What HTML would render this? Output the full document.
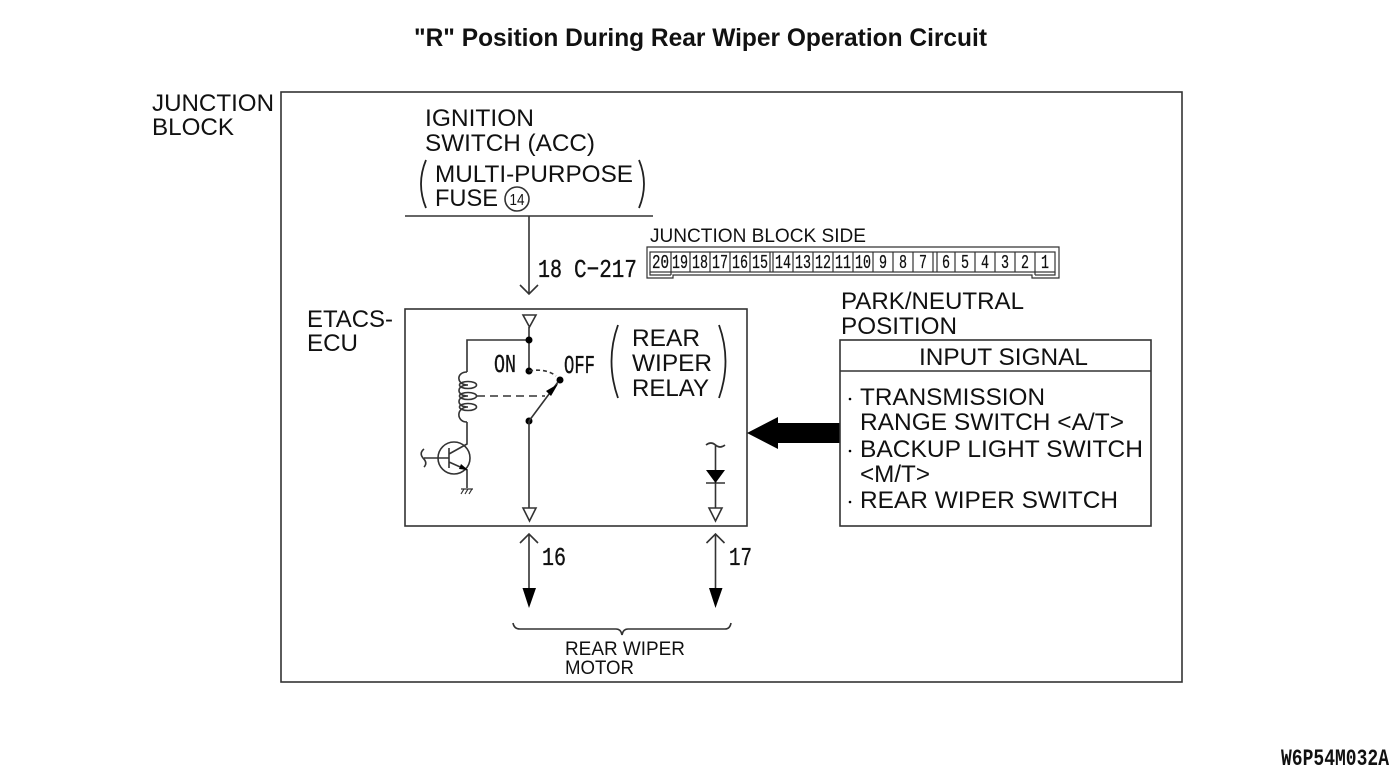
<!DOCTYPE html>
<html><head><meta charset="utf-8"><style>
html,body{margin:0;padding:0;background:#fff;width:1400px;height:775px;overflow:hidden}
svg{display:block}
text{font-family:"Liberation Sans",sans-serif;fill:#111;font-size:24.5px}
.l{fill:none;stroke:#333;stroke-width:1.6}
.t{stroke:#222;stroke-width:1.8;fill:none}
.d{fill:#000;stroke:none}
.o{fill:#fff;stroke:#333;stroke-width:1.6}
.s{font-size:19px}
.m{font-family:"Liberation Mono",monospace;font-size:26px;stroke:#111;stroke-width:.35}
.n{font-family:"Liberation Mono",monospace;font-size:19px;stroke:#111;stroke-width:.25}
</style></head><body>
<svg width="1400" height="775" viewBox="0 0 1400 775" xmlns="http://www.w3.org/2000/svg">
<text x="414" y="46" textLength="573" lengthAdjust="spacingAndGlyphs" style="font-weight:bold;font-size:25px">"R" Position During Rear Wiper Operation Circuit</text>

<rect class="l" x="281" y="92" width="901" height="590"/>
<text x="152" y="111" textLength="122" lengthAdjust="spacingAndGlyphs">JUNCTION</text>
<text x="152" y="135" textLength="82" lengthAdjust="spacingAndGlyphs">BLOCK</text>

<text x="425" y="126" textLength="109" lengthAdjust="spacingAndGlyphs">IGNITION</text>
<text x="425" y="151" textLength="170" lengthAdjust="spacingAndGlyphs">SWITCH (ACC)</text>
<text x="435" y="182" textLength="198" lengthAdjust="spacingAndGlyphs">MULTI-PURPOSE</text>
<text x="435" y="206" textLength="63" lengthAdjust="spacingAndGlyphs">FUSE</text>
<circle class="l" cx="517" cy="199" r="12"/>
<text x="517" y="205" text-anchor="middle" textLength="15" lengthAdjust="spacingAndGlyphs" style="font-size:16px">14</text>
<path class="t" d="M426 160Q416 184 426 208M639 160Q649 184 639 208"/>
<path class="l" d="M405 216H653M529 216V294M520 285L529 294L538 285"/>
<text x="538" y="277" class="m" textLength="24" lengthAdjust="spacingAndGlyphs">18</text>
<text x="574" y="277" class="m" textLength="63" lengthAdjust="spacingAndGlyphs">C−217</text>

<text x="650" y="242" class="s" textLength="216" lengthAdjust="spacingAndGlyphs">JUNCTION BLOCK SIDE</text>
<path class="l" style="stroke-width:1.2" d="M647 247H1059V278H1032V275H673V278H647Z"/>
<rect class="l" style="stroke-width:1.2" x="650" y="252" width="405" height="20"/>
<path class="l" style="stroke-width:1.2" d="M671 252V275M690 252V272M710 252V272M730 252V272M750 252V272M770 252V272M773 252V272M793 252V272M813 252V272M833 252V272M853 252V272M873 252V272M893 252V272M913 252V272M933 252V272M937 252V272M955 252V272M975 252V272M995 252V272M1015 252V272M1035 252V275M650 272V275H671M1035 275H1055V272"/>
<text class="n" x="660.500" y="268" text-anchor="middle" textLength="17" lengthAdjust="spacingAndGlyphs">20</text>
<text class="n" x="680" y="268" text-anchor="middle" textLength="16" lengthAdjust="spacingAndGlyphs">19</text>
<text class="n" x="700" y="268" text-anchor="middle" textLength="16" lengthAdjust="spacingAndGlyphs">18</text>
<text class="n" x="720" y="268" text-anchor="middle" textLength="16" lengthAdjust="spacingAndGlyphs">17</text>
<text class="n" x="740" y="268" text-anchor="middle" textLength="16" lengthAdjust="spacingAndGlyphs">16</text>
<text class="n" x="760" y="268" text-anchor="middle" textLength="16" lengthAdjust="spacingAndGlyphs">15</text>
<text class="n" x="783" y="268" text-anchor="middle" textLength="16" lengthAdjust="spacingAndGlyphs">14</text>
<text class="n" x="803" y="268" text-anchor="middle" textLength="16" lengthAdjust="spacingAndGlyphs">13</text>
<text class="n" x="823" y="268" text-anchor="middle" textLength="16" lengthAdjust="spacingAndGlyphs">12</text>
<text class="n" x="843" y="268" text-anchor="middle" textLength="16" lengthAdjust="spacingAndGlyphs">11</text>
<text class="n" x="863" y="268" text-anchor="middle" textLength="16" lengthAdjust="spacingAndGlyphs">10</text>
<text class="n" x="883" y="268" text-anchor="middle" textLength="8" lengthAdjust="spacingAndGlyphs">9</text>
<text class="n" x="903" y="268" text-anchor="middle" textLength="8" lengthAdjust="spacingAndGlyphs">8</text>
<text class="n" x="923" y="268" text-anchor="middle" textLength="8" lengthAdjust="spacingAndGlyphs">7</text>
<text class="n" x="946" y="268" text-anchor="middle" textLength="8" lengthAdjust="spacingAndGlyphs">6</text>
<text class="n" x="965" y="268" text-anchor="middle" textLength="8" lengthAdjust="spacingAndGlyphs">5</text>
<text class="n" x="985" y="268" text-anchor="middle" textLength="8" lengthAdjust="spacingAndGlyphs">4</text>
<text class="n" x="1005" y="268" text-anchor="middle" textLength="8" lengthAdjust="spacingAndGlyphs">3</text>
<text class="n" x="1025" y="268" text-anchor="middle" textLength="8" lengthAdjust="spacingAndGlyphs">2</text>
<text class="n" x="1045" y="268" text-anchor="middle" textLength="8" lengthAdjust="spacingAndGlyphs">1</text>

<text x="307" y="327" textLength="86" lengthAdjust="spacingAndGlyphs">ETACS-</text>
<text x="307" y="351" textLength="51" lengthAdjust="spacingAndGlyphs">ECU</text>
<rect class="l" x="405" y="309" width="342" height="217"/>

<path class="o" d="M523 315H536L529.500 327Z"/>
<path class="l" d="M529 327V371M529 340H467V372"/>
<circle class="d" cx="529" cy="340" r="3.500"/>
<circle class="d" cx="529" cy="371" r="3.500"/>
<path class="l" d="M529 371Q546 368 556 376" stroke-dasharray="4 3"/>
<circle class="d" cx="560" cy="380" r="3.500"/>
<circle class="d" cx="529" cy="421" r="3.500"/>
<path class="l" d="M529 421L558 382M529 421V508"/>
<path class="d" d="M558 384L551 396L546 391Z"/>
<path class="o" d="M523 508H536L529.500 521Z"/>
<text x="494" y="372" class="m" textLength="22" lengthAdjust="spacingAndGlyphs">ON</text>
<text x="564" y="373" class="m" textLength="31" lengthAdjust="spacingAndGlyphs">OFF</text>
<path class="l" d="M467 372C456 372 456 385 468 385M468 385C456 385 456 396 468 396M468 396C456 396 456 407 468 407M468 407C456 407 456 422 467 422"/>
<ellipse class="l" cx="468" cy="385" rx="8.500" ry="3.500"/>
<ellipse class="l" cx="468" cy="396" rx="8.500" ry="3.500"/>
<ellipse class="l" cx="468" cy="407" rx="8.500" ry="3.500"/>
<path class="l" d="M477 396H545" stroke-dasharray="8 5"/>
<circle class="l" cx="454" cy="458" r="16"/>
<path class="l" d="M467 422V444L449 454M449 448V468M424 458H449M449 462L467 470V488"/>
<path class="d" d="M468 470L459 469L461 464Z"/>
<path class="l" d="M424 449Q419 453 423 458Q428 463 424 467"/>
<path class="l" style="stroke-width:1.2" d="M461 489H473M464 489L461 494M468 489L465 494M472 489L469 494"/>

<text x="632" y="346" textLength="68" lengthAdjust="spacingAndGlyphs">REAR</text>
<text x="632" y="371" textLength="80" lengthAdjust="spacingAndGlyphs">WIPER</text>
<text x="632" y="396" textLength="77" lengthAdjust="spacingAndGlyphs">RELAY</text>
<path class="t" d="M618 325Q605 361 618 398M719 325Q732 361 719 398"/>

<path class="l" d="M706 445Q711 441 715.500 445T725 445M715.500 445V508M706 483H725"/>
<path class="d" d="M706 470H725L715.500 483Z"/>
<path class="o" d="M709 508H722L715.500 521Z"/>

<path class="d" d="M747 433L778 417V423H840V443H778V449Z"/>

<text x="841" y="309" textLength="183" lengthAdjust="spacingAndGlyphs">PARK/NEUTRAL</text>
<text x="841" y="334" textLength="116" lengthAdjust="spacingAndGlyphs">POSITION</text>
<rect class="l" x="840" y="340" width="311" height="186"/>
<path class="l" d="M840 371H1151"/>
<text x="919" y="365" textLength="169" lengthAdjust="spacingAndGlyphs">INPUT SIGNAL</text>
<circle class="d" cx="850" cy="399" r="1.300"/>
<circle class="d" cx="850" cy="451" r="1.300"/>
<circle class="d" cx="850" cy="502" r="1.300"/>
<text x="860" y="405" textLength="185" lengthAdjust="spacingAndGlyphs">TRANSMISSION</text>
<text x="860" y="430" textLength="264" lengthAdjust="spacingAndGlyphs">RANGE SWITCH &lt;A/T&gt;</text>
<text x="860" y="457" textLength="283" lengthAdjust="spacingAndGlyphs">BACKUP LIGHT SWITCH</text>
<text x="860" y="482" textLength="70" lengthAdjust="spacingAndGlyphs">&lt;M/T&gt;</text>
<text x="860" y="508" textLength="258" lengthAdjust="spacingAndGlyphs">REAR WIPER SWITCH</text>

<path class="l" d="M529 534V590M520 543L529 534L538 543"/>
<path class="d" d="M522.500 588H536L529 608Z"/>
<path class="l" d="M715.500 534V590M706.500 543L715.500 534L724.500 543"/>
<path class="d" d="M709 588H722.500L715.500 608Z"/>
<text x="542" y="565" class="m" textLength="24" lengthAdjust="spacingAndGlyphs">16</text>
<text x="729" y="565" class="m" textLength="23" lengthAdjust="spacingAndGlyphs">17</text>
<path class="l" d="M513 623Q514 629 520 629H616Q621 629 622 635Q623 629 628 629H725Q730 629 731 623"/>
<text x="565" y="655" class="s" textLength="120" lengthAdjust="spacingAndGlyphs">REAR WIPER</text>
<text x="565" y="674" class="s" textLength="69" lengthAdjust="spacingAndGlyphs">MOTOR</text>

<text x="1281" y="765" textLength="108" lengthAdjust="spacingAndGlyphs" style="font-family:'Liberation Mono',monospace;font-weight:bold;font-size:23px">W6P54M032A</text>
</svg>
</body></html>
